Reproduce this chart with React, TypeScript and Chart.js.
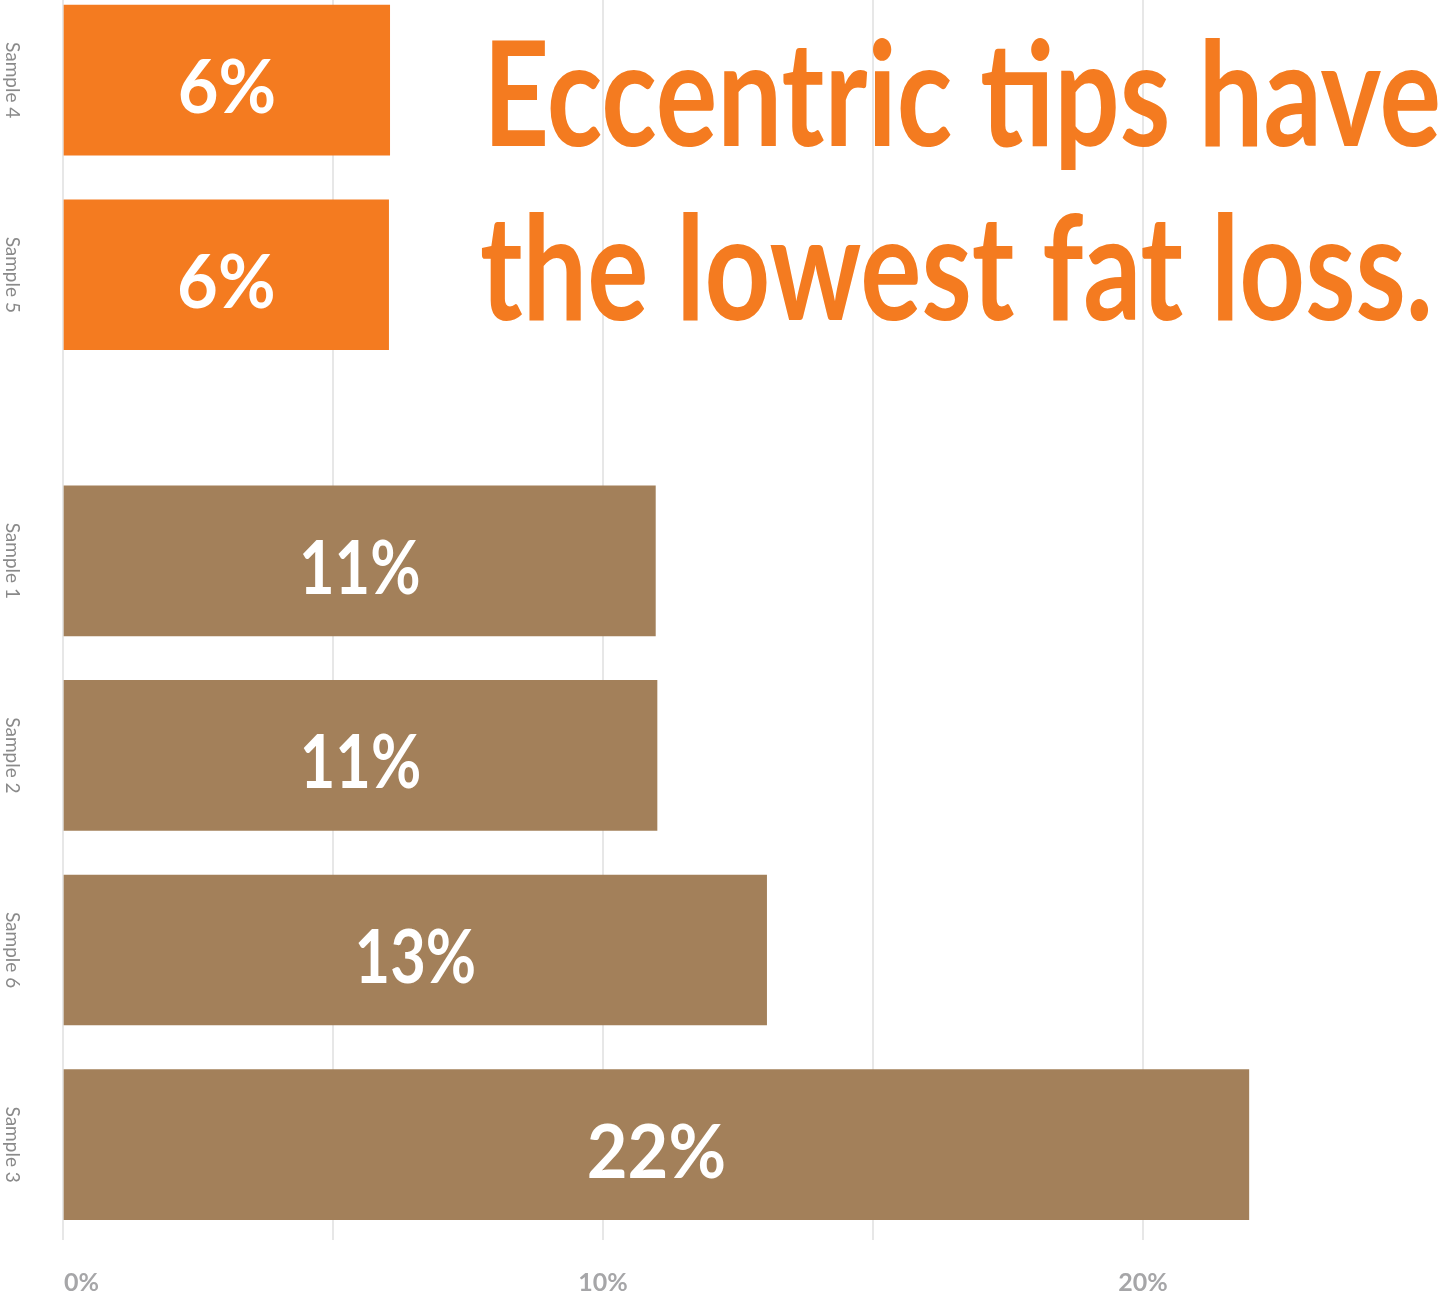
import React, { useEffect, useRef } from 'react';
import { Chart, registerables } from 'chart.js';

Chart.register(...registerables);

// ---- data ----
const categories = ['Sample 4', 'Sample 5', 'Sample 1', 'Sample 2', 'Sample 6', 'Sample 3'];
const fatLoss = [6.05, 6.03, 10.97, 11.0, 13.03, 21.96];
const highlighted = [true, true, false, false, false, false];
const xTickValues = [0, 5, 10, 15, 20];
const xTickLabels = ['0%', '', '10%', '', '20%'];
const titleLines = ['Eccentric tips have', 'the lowest fat loss.'];

// ---- style ----
const ORANGE = '#F47B20';
const BROWN = '#A3805A';
const GRID = '#e7e7e7';
const GROUP_GAP = 0.47;

// slot positions: one per category, plus a partial-slot gap where the group changes
const positions = categories.map((_, i) => {
  let gaps = 0;
  for (let k = 1; k <= i; k++) if (highlighted[k] !== highlighted[k - 1]) gaps++;
  return i + gaps * GROUP_GAP;
});

const overlayPlugin = {
  id: 'overlay',
  afterDatasetsDraw(chart: any) {
    const ctx = chart.ctx as CanvasRenderingContext2D;
    const meta = chart.getDatasetMeta(0);
    const xs = chart.scales.x;
    const ys = chart.scales.y;

    ctx.save();
    // value labels
    ctx.fillStyle = '#ffffff';
    ctx.textAlign = 'center';
    ctx.textBaseline = 'alphabetic';
    meta.data.forEach((el: any, i: number) => {
      const p = el.getProps(['x', 'y', 'base'], true);
      const txt = Math.round(fatLoss[i]) + '%';
      ctx.font = 'bold 74px Lato';
      const w = ctx.measureText(txt).width;
      const target = txt.startsWith('1') ? w * 0.83 : w * 0.95;
      ctx.save();
      ctx.translate((p.x + p.base) / 2, p.y + 33);
      ctx.scale(target / w, 1);
      ctx.fillText(txt, 0, 0);
      ctx.restore();
    });

    // category labels (rotated)
    ctx.fillStyle = '#8a8a8a';
    ctx.font = '400 19px Lato';
    ctx.textAlign = 'center';
    ctx.textBaseline = 'middle';
    categories.forEach((c, i) => {
      const y = ys.getPixelForValue(positions[i]);
      ctx.save();
      ctx.translate(12, y);
      ctx.rotate(Math.PI / 2);
      ctx.fillText(c, 0, 0);
      ctx.restore();
    });

    // x tick labels
    ctx.fillStyle = '#a6a6a8';
    ctx.font = 'bold 25px Lato';
    ctx.textBaseline = 'alphabetic';
    xTickValues.forEach((v, i) => {
      const lbl = xTickLabels[i];
      if (!lbl) return;
      const x = xs.getPixelForValue(v);
      ctx.textAlign = i === 0 ? 'left' : 'center';
      ctx.fillText(lbl, i === 0 ? x + 1 : x, 1291);
    });

    // title
    ctx.fillStyle = ORANGE;
    ctx.textAlign = 'left';
    const lines = [
      { text: titleLines[0], left: 483, right: 1441, base: 146 },
      { text: titleLines[1], left: 480, right: 1433, base: 320 },
    ];
    lines.forEach((l) => {
      ctx.font = 'bold 145px Lato';
      const w = ctx.measureText(l.text).width;
      ctx.save();
      ctx.translate(l.left, l.base);
      ctx.scale((l.right - l.left) / w, 1);
      ctx.fillText(l.text, 0, 0);
      ctx.restore();
    });
    ctx.restore();
  },
};

export default function App() {
  const ref = useRef<HTMLCanvasElement>(null);

  useEffect(() => {
    document.body.style.margin = '0';
    const canvas = ref.current;
    if (!canvas) return;
    const chart = new Chart(canvas, {
      type: 'bar',
      data: {
        labels: categories,
        datasets: [
          {
            data: fatLoss.map((v, i) => ({ x: v, y: positions[i] })) as any,
            backgroundColor: highlighted.map((h) => (h ? ORANGE : BROWN)),
            borderWidth: 0,
            barThickness: 150,
          } as any,
        ],
      },
      options: {
        indexAxis: 'y',
        animation: false,
        responsive: true,
        maintainAspectRatio: false,
        layout: { padding: { left: 0, right: 34, top: 0, bottom: 0 } },
        plugins: {
          legend: { display: false },
          tooltip: { enabled: false },
          title: { display: false },
        },
        scales: {
          x: {
            type: 'linear',
            min: 0,
            max: 25,
            position: 'bottom',
            offset: false,
            afterBuildTicks: (s: any) => {
              s.ticks = xTickValues.map((v) => ({ value: v }));
            },
            afterFit: (s: any) => {
              s.height = 57;
            },
            grid: { color: GRID, lineWidth: 2, drawTicks: false, offset: false },
            border: { display: false },
            ticks: { display: false },
          },
          y: {
            type: 'linear',
            reverse: true,
            min: -0.412,
            max: 5.96,
            offset: false,
            afterFit: (s: any) => {
              s.width = 63;
            },
            grid: { display: false, offset: false },
            border: { display: false },
            ticks: { display: false },
          },
        },
      } as any,
      plugins: [overlayPlugin],
    });
    return () => chart.destroy();
  }, []);

  return (
    <div style={{ width: 1447, height: 1297, position: 'relative' }}>
      <canvas ref={ref} />
    </div>
  );
}
